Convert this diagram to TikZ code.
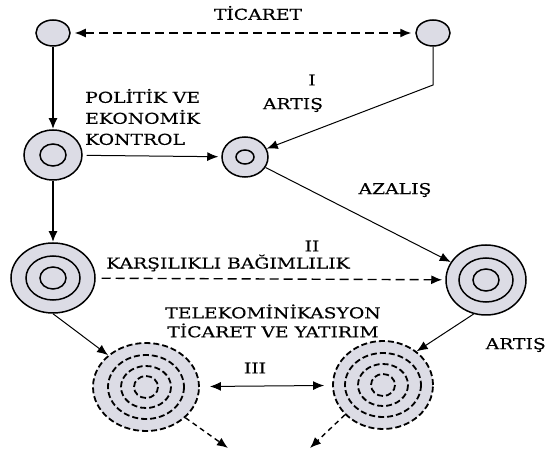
\documentclass[tikz,border=0pt]{standalone}
\usepackage{fontspec}
\setmainfont{DejaVu Serif}[FakeStretch=1.25, FakeBold=0.4]
\usetikzlibrary{shapes.geometric,arrows.meta}
\definecolor{ringgray}{RGB}{220,220,229}
\begin{document}
\begin{tikzpicture}[
  x=1pt, y=-1pt,
  ring/.style={ellipse, draw, line width=1.5pt, fill=ringgray, inner sep=0pt},
  dring/.style={ring, dash pattern=on 6pt off 3pt, line width=1.8pt},
  inring/.style={line width=1.5pt},
  dinring/.style={line width=1.8pt, dash pattern=on 6pt off 3pt},
  link/.style={-{Latex[length=11pt,width=9pt]}, line width=1pt},
  boldlink/.style={link, line width=2pt},
  dashlink/.style={link, dash pattern=on 9pt off 5pt, line width=1.4pt},
  lbl/.style={font=\fontsize{15}{21}\selectfont, inner sep=0pt},
]
\useasboundingbox (0,0) rectangle (547,457);

% rings
\node[ring, minimum width=34pt, minimum height=26pt] (a) at (53,33) {};
\node[ring, minimum width=34pt, minimum height=26pt] (b) at (433,33) {};
\node[ring, minimum width=58pt, minimum height=50pt] (c) at (53,155) {};
\node[ring, minimum width=46pt, minimum height=40pt] (d) at (245,157) {};
\node[ring, minimum width=84pt, minimum height=70pt] (e) at (53,278) {};
\node[ring, minimum width=80pt, minimum height=70pt] (f) at (486,280) {};
\node[dring, minimum width=106pt, minimum height=88pt] (g) at (146,387) {};
\node[dring, minimum width=100pt, minimum height=88pt] (h) at (383,385) {};

\draw[inring] (c) ellipse [x radius=13, y radius=11];
\draw[inring] (d) ellipse [x radius=9, y radius=7];
\foreach \n in {e,f} {
  \draw[inring] (\n) ellipse [x radius=27, y radius=22];
  \draw[inring] (\n) ellipse [x radius=13, y radius=11];
}
\foreach \n in {g,h} {
  \draw[dinring] (\n) ellipse [x radius=38, y radius=32];
  \draw[dinring] (\n) ellipse [x radius=25, y radius=21];
  \draw[dinring] (\n) ellipse [x radius=12, y radius=11];
}

% connectors
\coordinate (bk) at (433,85);
\coordinate (gout) at (228,448);
\coordinate (hout) at (310,448);

\draw[dashlink, {Latex[length=11pt,width=9pt]}-{Latex[length=11pt,width=9pt]}, shorten <=4pt, shorten >=4pt] (a) -- (b);
\draw[boldlink] (a) -- (c);
\draw[boldlink] (c) -- (e);
\draw[link] (b) -- (bk) -- (d);
\draw[link, shorten <=4pt, shorten >=3pt] (c) -- (d);
\draw[link] (d) -- (f);
\draw[dashlink, shorten <=6pt, shorten >=3pt] (e) -- (f);
\draw[link] (e.south) -- (g.140);
\draw[link] (f.250) -- (h.45);
\draw[link, {Latex[length=11pt,width=9pt]}-{Latex[length=11pt,width=9pt]}, shorten <=10pt, shorten >=8pt] (g) -- (h);
\draw[dashlink, dash pattern=on 5pt off 4pt] (g.-38) -- (gout);
\draw[dashlink, dash pattern=on 5pt off 4pt] (h.218) -- (hout);

% labels
\node[lbl] (ticaret) at (258,13) {TİCARET};
\node[lbl] (roman1) at (312,80) {I};
\node[lbl] (artis1) at (293,105) {ARTIŞ};
\node[lbl, align=left, anchor=west] (politik) at (85,117) {POLİTİK VE\\EKONOMİK\\KONTROL};
\node[lbl] (azalis) at (395,190) {AZALIŞ};
\node[lbl] (roman2) at (312,246) {II};
\node[lbl] (karsilik) at (228,263) {KARŞILIKLI BAĞIMLILIK};
\node[lbl, align=center, font=\fontsize{15}{19}\selectfont] (telekom) at (273,321) {TELEKOMİNİKASYON\\TİCARET VE YATIRIM};
\node[lbl] (roman3) at (255,368) {III};
\node[lbl, anchor=east] (artis2) at (546,345) {ARTIŞ};
\end{tikzpicture}
\end{document}
